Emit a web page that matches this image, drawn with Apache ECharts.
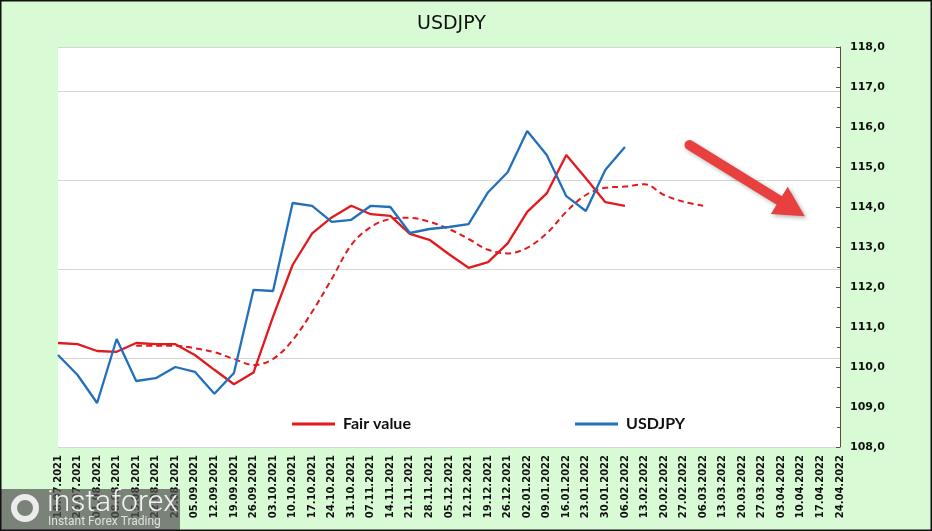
<!DOCTYPE html>
<html>
<head>
<meta charset="utf-8">
<script src="https://cdn.jsdelivr.net/npm/echarts@6/dist/echarts.min.js"></script>
<style>
html,body{margin:0;padding:0;background:#d8fad5;}
#chart{width:932px;height:531px;}
</style>
</head>
<body>
<div id="chart"></div>
<script>
const categories = ['18.07.2021','25.07.2021','01.08.2021','08.08.2021','15.08.2021','22.08.2021','29.08.2021',
  '05.09.2021','12.09.2021','19.09.2021','26.09.2021','03.10.2021','10.10.2021','17.10.2021','24.10.2021','31.10.2021',
  '07.11.2021','14.11.2021','21.11.2021','28.11.2021','05.12.2021','12.12.2021','19.12.2021','26.12.2021',
  '02.01.2022','09.01.2022','16.01.2022','23.01.2022','30.01.2022','06.02.2022','13.02.2022','20.02.2022','27.02.2022',
  '06.03.2022','13.03.2022','20.03.2022','27.03.2022','03.04.2022','10.04.2022','17.04.2022','24.04.2022'];

const fairValue = [110.6,110.57,110.4,110.38,110.6,110.57,110.57,110.3,109.93,109.57,109.86,111.26,112.55,113.34,113.74,
  114.03,113.82,113.78,113.33,113.18,112.82,112.48,112.62,113.09,113.88,114.34,115.3,114.72,114.12,114.03];

const usdjpy = [110.3,109.8,109.1,110.7,109.65,109.72,110.0,109.88,109.33,109.85,111.93,111.9,114.1,114.03,113.63,
  113.68,114.03,114.0,113.35,113.45,113.5,113.57,114.37,114.87,115.9,115.3,114.27,113.9,114.93,115.5];

const fairTrend = [null,null,null,null,110.53,110.53,110.53,110.47,110.37,110.2,110.05,110.2,110.67,111.38,112.2,113.05,
  113.5,113.7,113.73,113.63,113.45,113.2,112.93,112.84,112.98,113.34,113.88,114.3,114.48,114.51,114.57,114.3,114.13,114.03];

const yTicks = {min:108, max:118, step:1};
const arrowFrom = [32.3, 115.55];
const arrowTo = [38.2, 113.77];

const RED = '#e3191c', BLUE = '#2370ba';
const chart = echarts.init(document.getElementById('chart'));
const option = {
  animation:false,
  backgroundColor:'#d8fad5',
  title:{text:'USDJPY', left:412, top:10,
    textStyle:{fontFamily:'DejaVu Sans', fontSize:19, fontWeight:'normal', color:'#111'}},
  grid:{left:58, right:92, top:47, bottom:84, show:true, backgroundColor:'#ffffff', borderWidth:0},
  legend:[
    {data:['Fair value'], left:287, top:411, icon:'rect', itemWidth:43, itemHeight:3,
      textStyle:{fontFamily:'Lato', fontWeight:'bold', fontSize:16, color:'#111', padding:[0,0,0,3]}},
    {data:['USDJPY'], left:570, top:411, icon:'rect', itemWidth:43, itemHeight:3,
      textStyle:{fontFamily:'Lato', fontWeight:'bold', fontSize:16, color:'#111', padding:[0,0,0,3]}}
  ],
  xAxis:{type:'category', data:categories, boundaryGap:false,
    axisLine:{show:false}, axisTick:{show:false},
    axisLabel:{rotate:90, interval:0, margin:8, fontFamily:'DejaVu Sans', fontWeight:'bold', fontSize:10, color:'#111'}},
  yAxis:[
    {type:'value', position:'right', min:yTicks.min, max:yTicks.max, interval:yTicks.step,
      axisLine:{show:true, lineStyle:{color:'#5b4a42', width:1}},
      axisTick:{show:true, inside:true, length:4, lineStyle:{color:'#5b4a42'}},
      minorTick:{show:true, splitNumber:2, length:3, lineStyle:{color:'#5b4a42'}},
      splitLine:{show:false},
      axisLabel:{margin:10, fontFamily:'DejaVu Sans', fontWeight:'bold', fontSize:11, color:'#111',
        formatter:v=>v.toFixed(1).replace('.',',')}},
    {type:'value', position:'left', min:0, max:4.5, interval:1, show:true,
      axisLine:{show:false}, axisTick:{show:false}, axisLabel:{show:false},
      splitLine:{show:true, lineStyle:{color:'#d6d6d6', width:1}}}
  ],
  series:[
    {name:'Fair value', type:'line', data:fairValue, yAxisIndex:0, symbol:'none',
      lineStyle:{color:RED, width:2.3}, itemStyle:{color:RED}, z:3},
    {name:'USDJPY', type:'line', data:usdjpy, yAxisIndex:0, symbol:'none',
      lineStyle:{color:BLUE, width:2.3}, itemStyle:{color:BLUE}, z:4},
    {name:'Fair value trend', type:'line', data:fairTrend, yAxisIndex:0, symbol:'none', smooth:0.35,
      connectNulls:false,
      lineStyle:{color:RED, width:2, type:[6,4]}, itemStyle:{color:RED}, z:2}
  ]
};
chart.setOption(option);

function px(pt){
  const i0 = Math.floor(pt[0]), f = pt[0]-i0;
  const a = chart.convertToPixel({xAxisIndex:0}, categories[i0]);
  const b = chart.convertToPixel({xAxisIndex:0}, categories[Math.min(i0+1, categories.length-1)]);
  const y = chart.convertToPixel({yAxisIndex:0}, pt[1]);
  return [a + (b-a)*f, y];
}
const s = px(arrowFrom), t = px(arrowTo);
const dx = t[0]-s[0], dy = t[1]-s[1], L = Math.hypot(dx,dy);
const ux = dx/L, uy = dy/L, headLen = 30, headHalf = 16;
const bc = [t[0]-ux*headLen, t[1]-uy*headLen];
const arrowColor = '#e8403e';
const shadow = {shadowBlur:4, shadowColor:'rgba(0,0,0,0.3)', shadowOffsetX:2, shadowOffsetY:2};

chart.setOption({graphic:[
  {type:'line', shape:{x1:s[0], y1:s[1], x2:bc[0]+ux*2, y2:bc[1]+uy*2},
    style:Object.assign({stroke:arrowColor, lineWidth:10, lineCap:'round'}, shadow), z:10},
  {type:'polygon', shape:{points:[[t[0],t[1]],[bc[0]-uy*headHalf, bc[1]+ux*headHalf],[bc[0]+uy*headHalf, bc[1]-ux*headHalf]]},
    style:Object.assign({fill:arrowColor}, shadow), z:10},
  {type:'rect', shape:{x:0, y:489, width:180, height:42}, style:{fill:'rgba(85,85,85,0.72)'}, z:20},
  {type:'ring', shape:{cx:25, cy:508, r:14, r0:8}, style:{fill:'rgba(255,255,255,0.85)'}, z:21},
  {type:'text', x:47, y:488, style:{text:'instaforex', fill:'rgba(255,255,255,0.9)', font:'300 30px Roboto'}, z:21},
  {type:'text', x:48, y:516, style:{text:'Instant Forex Trading', fill:'rgba(235,235,235,0.9)', font:'12px Roboto'}, z:21},
  {type:'rect', shape:{x:0.75, y:0.75, width:930.5, height:529.5}, style:{fill:null, stroke:'#111', lineWidth:1.5}, z:30}
]});
</script>
</body>
</html>
